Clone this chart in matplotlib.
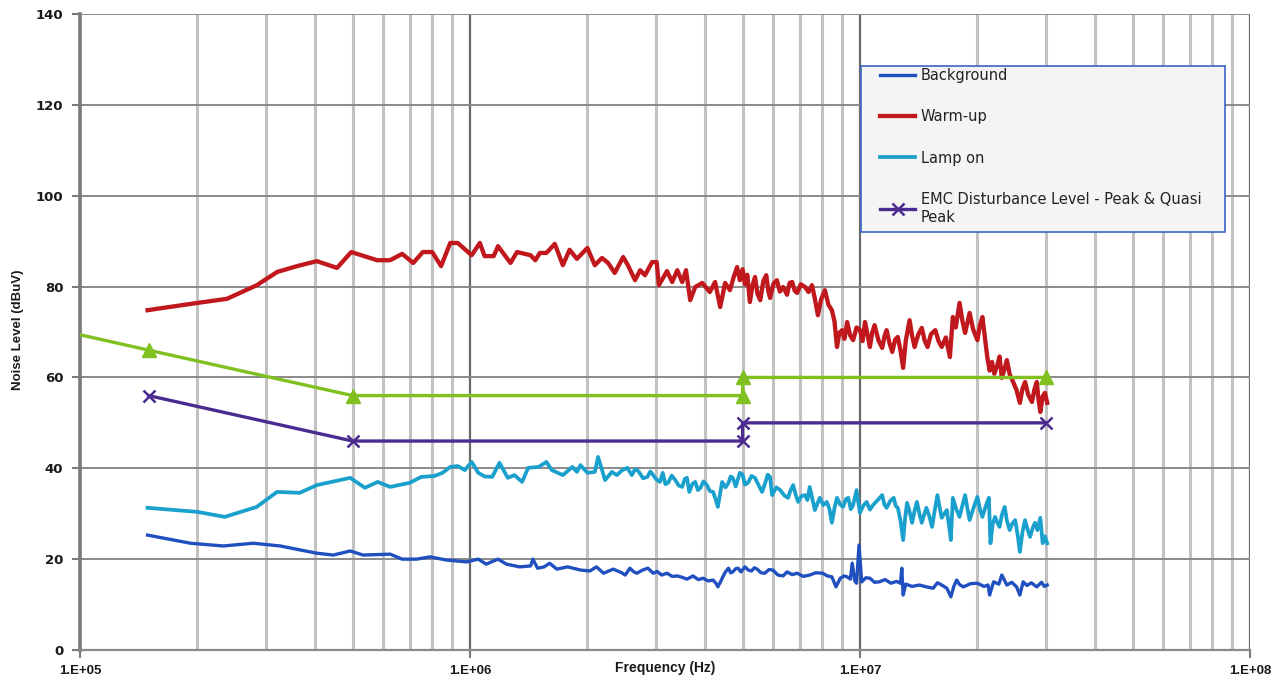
import matplotlib.pyplot as plt
from matplotlib.patches import Rectangle

# EMC limit lines (Hz, dBuV)
limit_qp_f = [1.0e5, 1.5e5, 5.0e5, 5.0e6, 5.0e6, 3.0e7]
limit_qp_v = [69.4, 66, 56, 56, 60, 60]
limit_av_f = [1.5e5, 5.0e5, 5.0e6, 5.0e6, 3.0e7]
limit_av_v = [56, 46, 46, 50, 50]

# Warm-up
warm_f = [1.49e5, 2.0e5, 2.38e5, 2.84e5, 3.2e5, 3.6e5, 4.05e5, 4.56e5, 4.96e5, 5.78e5,
          6.24e5, 6.7e5, 7.15e5, 7.57e5, 8.0e5, 8.43e5, 8.9e5, 9.3e5, 1.01e6, 1.06e6,
          1.09e6, 1.15e6, 1.18e6, 1.27e6, 1.32e6, 1.43e6, 1.47e6, 1.51e6, 1.57e6, 1.65e6,
          1.73e6, 1.8e6, 1.88e6, 2.0e6, 2.09e6, 2.18e6, 2.26e6, 2.35e6, 2.47e6, 2.54e6,
          2.65e6, 2.73e6, 2.81e6, 2.93e6, 3.01e6, 3.05e6, 3.2e6, 3.3e6, 3.4e6, 3.5e6,
          3.58e6, 3.67e6, 3.78e6, 3.94e6, 4.12e6, 4.25e6, 4.38e6, 4.51e6,
          4.64e6, 4.74e6, 4.84e6, 4.92e6, 5.0e6, 5.07e6, 5.14e6, 5.22e6, 5.3e6, 5.38e6,
          5.46e6, 5.55e6, 5.65e6, 5.75e6, 5.82e6, 5.88e6, 6.0e6, 6.12e6, 6.23e6, 6.35e6,
          6.5e6, 6.6e6, 6.7e6, 6.8e6, 6.9e6, 7.05e6, 7.23e6, 7.38e6, 7.53e6, 7.65e6,
          7.8e6, 7.95e6, 8.13e6, 8.3e6, 8.47e6, 8.6e6, 8.73e6, 8.85e6, 9.0e6, 9.12e6,
          9.27e6, 9.43e6, 9.6e6, 9.8e6, 1.0e7, 1.015e7, 1.03e7, 1.045e7, 1.06e7, 1.075e7,
          1.09e7, 1.115e7, 1.14e7, 1.155e7, 1.17e7, 1.19e7, 1.21e7, 1.23e7, 1.25e7, 1.27e7,
          1.29e7, 1.31e7, 1.34e7, 1.36e7, 1.38e7, 1.41e7, 1.44e7, 1.465e7, 1.49e7, 1.52e7,
          1.56e7, 1.59e7, 1.62e7, 1.66e7, 1.7e7, 1.73e7, 1.76e7, 1.8e7, 1.83e7, 1.86e7,
          1.885e7, 1.91e7, 1.95e7, 2.0e7, 2.03e7, 2.06e7, 2.09e7, 2.12e7, 2.15e7, 2.18e7,
          2.21e7, 2.25e7, 2.28e7, 2.31e7, 2.35e7, 2.38e7, 2.42e7, 2.47e7, 2.52e7, 2.57e7,
          2.61e7, 2.65e7, 2.7e7, 2.76e7, 2.8e7, 2.84e7, 2.87e7, 2.9e7, 2.94e7, 2.98e7, 3.02e7]
warm_v = [74.8, 76.4, 77.3, 80.3, 83.2, 84.5, 85.6, 84.1, 87.6, 85.8,
          85.8, 87.2, 85.2, 87.6, 87.6, 84.5, 89.6, 89.6, 86.9, 89.6,
          86.7, 86.7, 88.9, 85.2, 87.6, 86.9, 85.8, 87.4, 87.4, 89.4,
          84.7, 88.1, 86.1, 88.5, 84.7, 86.3, 85.2, 83.0, 86.5, 84.7,
          81.4, 83.6, 82.5, 85.4, 85.4, 80.3, 83.4, 81.0, 83.6, 81.0,
          83.6, 77.0, 79.9, 80.8, 78.8, 81.0, 75.5, 80.8,
          79.2, 82.0, 84.3, 81.4, 83.8, 80.5, 82.6, 76.6, 80.2, 82.1,
          78.4, 77.0, 81.2, 82.5, 79.0, 77.5, 80.6, 81.4, 78.9, 79.9,
          78.2, 80.8, 81.0, 79.1, 78.6, 80.5, 79.9, 78.8, 80.3, 77.6,
          73.7, 77.2, 79.2, 76.0, 74.8, 72.4, 66.7, 69.8, 70.4, 68.5,
          72.2, 69.3, 68.2, 71.0, 70.4, 68.0, 72.2, 69.5, 66.7, 69.9,
          71.5, 68.2, 66.5, 69.0, 70.4, 67.6, 65.6, 68.3, 68.9, 66.0,
          62.1, 68.0, 72.6, 69.2, 66.7, 69.4, 70.9, 68.1, 66.7, 69.5,
          70.4, 68.0, 66.7, 68.8, 64.5, 73.3, 71.0, 76.4, 72.5, 69.8,
          72.0, 74.2, 70.6, 68.2, 71.5, 73.3, 68.9, 64.5, 61.5, 63.4,
          60.8, 62.7, 64.6, 59.9, 62.0, 63.8, 60.7, 59.0, 57.2, 54.4,
          57.5, 59.0, 56.2, 54.6, 57.3, 59.0, 55.0, 52.4, 55.8, 56.6, 54.4]

# Lamp on
lamp_f = [1.49e5, 2.0e5, 2.35e5, 2.84e5, 3.2e5, 3.66e5, 4.05e5, 4.93e5, 5.38e5, 5.8e5,
          6.24e5, 7.0e5, 7.5e5, 8.1e5, 8.5e5, 8.9e5, 9.3e5, 9.7e5, 1.01e6, 1.05e6,
          1.09e6, 1.14e6, 1.19e6, 1.25e6, 1.3e6, 1.36e6, 1.41e6, 1.5e6, 1.57e6, 1.62e6,
          1.73e6, 1.83e6, 1.88e6, 1.92e6, 2.0e6, 2.09e6, 2.13e6, 2.22e6, 2.31e6, 2.38e6,
          2.45e6,
          2.53e6, 2.6e6, 2.65e6, 2.7e6, 2.78e6, 2.85e6, 2.9e6, 2.95e6, 3.0e6, 3.07e6,
          3.12e6, 3.17e6, 3.22e6, 3.29e6, 3.36e6, 3.43e6, 3.5e6, 3.55e6, 3.6e6, 3.65e6,
          3.72e6, 3.78e6, 3.84e6, 3.9e6, 3.97e6, 4.05e6, 4.12e6, 4.2e6, 4.27e6, 4.32e6,
          4.38e6, 4.43e6, 4.52e6, 4.6e6, 4.66e6, 4.72e6, 4.8e6, 4.92e6, 5.0e6, 5.07e6,
          5.16e6, 5.27e6, 5.38e6, 5.5e6, 5.61e6, 5.72e6, 5.8e6, 5.88e6, 5.95e6, 6.1e6,
          6.24e6, 6.4e6, 6.54e6, 6.64e6, 6.74e6, 6.84e6, 6.94e6, 7.08e6, 7.23e6, 7.33e6,
          7.43e6, 7.55e6, 7.66e6, 7.78e6, 7.89e6, 8.05e6, 8.22e6, 8.35e6, 8.47e6, 8.6e6,
          8.73e6, 8.9e6, 9.05e6, 9.2e6, 9.33e6, 9.47e6, 9.6e6, 9.8e6, 9.9e6, 1.0e7,
          1.02e7, 1.04e7, 1.06e7, 1.08e7, 1.11e7, 1.14e7, 1.155e7, 1.17e7, 1.195e7, 1.22e7,
          1.235e7, 1.25e7, 1.27e7, 1.29e7, 1.305e7, 1.32e7, 1.34e7, 1.36e7, 1.38e7, 1.4e7,
          1.42e7, 1.44e7, 1.46e7, 1.48e7, 1.505e7, 1.53e7, 1.555e7, 1.58e7, 1.6e7, 1.62e7,
          1.645e7, 1.67e7, 1.69e7, 1.71e7, 1.73e7, 1.765e7, 1.8e7, 1.83e7, 1.86e7, 1.885e7,
          1.91e7, 1.95e7, 2.0e7, 2.03e7, 2.06e7, 2.1e7, 2.14e7, 2.16e7, 2.19e7, 2.22e7,
          2.25e7, 2.28e7, 2.31e7, 2.35e7, 2.38e7, 2.42e7, 2.46e7, 2.5e7, 2.54e7, 2.57e7,
          2.61e7, 2.65e7, 2.69e7, 2.73e7, 2.77e7, 2.81e7, 2.85e7, 2.9e7, 2.94e7, 2.98e7, 3.02e7]
lamp_v = [31.3, 30.4, 29.3, 31.5, 34.8, 34.6, 36.3, 37.9, 35.7, 37.0,
          35.9, 36.8, 38.1, 38.3, 39.0, 40.3, 40.5, 39.6, 41.4, 39.0,
          38.2, 38.1, 41.2, 37.9, 38.5, 37.0, 40.1, 40.3, 41.4, 39.6,
          38.5, 40.3, 39.2, 40.7, 39.0, 39.2, 42.5, 37.4, 39.2, 38.5,
          39.5,
          40.1, 38.5, 39.8, 39.4, 37.8, 38.1, 39.3, 38.5, 37.6, 37.0,
          39.0, 36.5, 36.8, 38.4, 37.4, 36.2, 35.9, 37.6, 37.9, 34.8,
          36.6, 37.0, 35.2, 35.7, 37.1, 36.3, 35.0, 34.8, 33.0, 31.5,
          34.5, 37.0, 35.8, 36.8, 38.2, 37.9, 36.0, 39.0, 38.6, 36.4,
          36.8, 38.3, 37.9, 36.2, 34.8, 36.9, 38.6, 38.1, 34.1, 35.8,
          35.2, 34.0, 33.5, 35.2, 36.3, 34.2, 32.6, 33.9, 34.1, 33.0,
          35.9, 33.2, 30.8, 32.3, 33.5, 31.9, 32.6, 31.0, 28.0, 31.2,
          33.5, 32.0, 31.5, 33.2, 33.5, 31.0, 31.9, 35.2, 32.5, 30.2,
          31.8, 32.6, 30.9, 31.9, 33.0, 34.1, 32.0, 31.3, 32.8, 33.5,
          31.7, 31.3, 28.5, 24.2, 29.0, 32.4, 30.5, 28.0, 30.6, 32.6,
          30.0, 28.0, 29.8, 31.3, 29.5, 27.1, 30.8, 34.1, 31.4, 29.1,
          30.0, 30.8, 27.6, 24.2, 33.5, 31.0, 29.3, 31.8, 34.1, 31.2,
          28.6, 31.0, 33.7, 31.0, 29.3, 31.6, 33.5, 23.5, 27.8, 29.3,
          28.0, 27.1, 29.7, 31.5, 28.5, 26.4, 27.9, 28.6, 25.0, 21.6,
          26.0, 28.6, 26.5, 24.9, 26.8, 28.0, 26.4, 29.1, 23.5, 25.0, 23.5]

# Background
bg_f = [1.49e5, 1.92e5, 2.33e5, 2.78e5, 3.26e5, 4.05e5, 4.46e5, 4.93e5, 5.32e5, 6.24e5,
        6.7e5, 7.3e5, 7.9e5, 8.7e5, 9.8e5, 1.05e6, 1.1e6, 1.18e6, 1.24e6, 1.34e6,
        1.43e6, 1.45e6, 1.49e6, 1.55e6, 1.6e6, 1.67e6, 1.78e6, 1.92e6, 2.03e6, 2.11e6,
        2.2e6, 2.33e6, 2.45e6,
        2.5e6, 2.57e6, 2.63e6, 2.68e6, 2.77e6, 2.86e6, 2.95e6, 3.02e6, 3.1e6, 3.2e6,
        3.3e6, 3.4e6, 3.5e6, 3.6e6, 3.73e6, 3.85e6, 3.96e6, 4.08e6, 4.2e6, 4.28e6,
        4.32e6, 4.4e6, 4.45e6, 4.52e6, 4.6e6, 4.66e6, 4.72e6, 4.8e6, 4.87e6, 4.95e6,
        5.07e6, 5.17e6, 5.27e6, 5.36e6, 5.45e6, 5.57e6, 5.7e6, 5.84e6, 5.98e6, 6.16e6,
        6.35e6, 6.5e6, 6.7e6, 6.9e6, 7.15e6, 7.43e6, 7.7e6, 8.02e6, 8.25e6, 8.47e6,
        8.68e6, 8.9e6, 9.1e6, 9.27e6, 9.45e6, 9.55e6, 9.7e6, 9.8e6, 9.94e6, 1.01e7,
        1.035e7, 1.06e7, 1.09e7, 1.12e7, 1.16e7, 1.2e7, 1.24e7, 1.27e7, 1.28e7, 1.29e7,
        1.31e7, 1.36e7, 1.42e7, 1.48e7, 1.54e7, 1.58e7, 1.62e7, 1.67e7, 1.71e7, 1.74e7,
        1.77e7, 1.8e7, 1.84e7, 1.92e7, 2.0e7, 2.08e7, 2.13e7, 2.15e7, 2.2e7, 2.27e7,
        2.31e7, 2.38e7, 2.45e7, 2.52e7, 2.57e7, 2.62e7, 2.68e7, 2.75e7, 2.84e7, 2.92e7,
        2.97e7, 3.02e7]
bg_v = [25.3, 23.5, 22.9, 23.5, 22.9, 21.3, 20.9, 21.8, 20.9, 21.1,
        20.0, 20.0, 20.5, 19.8, 19.4, 20.0, 18.9, 20.0, 18.9, 18.3,
        18.5, 20.0, 18.0, 18.3, 19.1, 17.8, 18.3, 17.6, 17.4, 18.3,
        16.9, 17.8, 17.0,
        16.5, 18.0, 17.2, 16.9, 17.6, 18.0, 16.9, 17.3, 16.5, 16.9,
        16.2, 16.3, 16.0, 15.6, 16.3, 15.5, 15.8, 15.2, 15.4, 14.6,
        13.9, 15.2, 16.1, 17.2, 18.0, 17.0, 17.2, 17.9, 18.0, 17.2,
        18.3, 17.6, 17.4, 18.1, 17.8, 17.0, 16.9, 17.7, 17.6, 16.5,
        16.3, 17.2, 16.6, 16.9, 16.2, 16.5, 17.0, 16.9, 16.3, 16.1,
        13.9, 15.8, 16.3, 16.1, 15.6, 19.1, 15.2, 14.7, 23.1, 15.0,
        15.9, 15.8, 14.9, 15.0, 15.5, 14.7, 15.1, 14.7, 18.0, 12.1,
        14.5, 14.0, 14.3, 13.9, 13.6, 14.8, 14.3, 13.6, 11.7, 14.0,
        15.4, 14.4, 13.9, 14.6, 14.7, 14.0, 14.3, 12.1, 15.0, 14.5,
        16.5, 14.3, 14.9, 13.9, 12.1, 15.0, 14.2, 14.8, 13.9, 14.9,
        14.0, 14.3]

xticks = [1e5, 1e6, 1e7, 1e8]
xtick_labels = ['1.E+05', '1.E+06', '1.E+07', '1.E+08']
yticks = [0, 20, 40, 60, 80, 100, 120, 140]

W, H = 1287, 682
fig = plt.figure(figsize=(W / 100, H / 100), dpi=100)
ax = fig.add_axes([80 / W, 1 - 650 / H, 1170 / W, 636 / H])

ax.set_xscale('log')
ax.set_xlim(1e5, 1e8)
ax.set_ylim(0, 140)

minor = [m * d for d in [1e5, 1e6, 1e7] for m in range(2, 10)]
ax.set_xticks(xticks)
ax.set_xticklabels(xtick_labels)
ax.set_xticks(minor, minor=True)
ax.set_xticklabels([], minor=True)
ax.set_yticks(yticks)

ax.grid(which='minor', axis='x', color='#c2c2c2', lw=2.2, zorder=0)
ax.grid(which='major', axis='x', color='#6a6a6a', lw=1.6, zorder=0)
ax.grid(which='major', axis='y', color='#8a8a8a', lw=1.4, zorder=0)
ax.set_axisbelow(True)

for s in ['top', 'right']:
    ax.spines[s].set_visible(False)
ax.spines['left'].set_color('#7a7a7a')
ax.spines['left'].set_linewidth(2.6)
ax.spines['bottom'].set_color('#8a8a8a')
ax.spines['bottom'].set_linewidth(1.6)

ax.tick_params(axis='y', which='major', length=6, width=1.5, color='#7a7a7a', pad=6)
ax.tick_params(axis='x', which='major', length=6, width=1.5, color='#7a7a7a', pad=5)
ax.tick_params(axis='x', which='minor', length=0)
for t in ax.get_yticklabels():
    t.set_fontfamily('DejaVu Sans')
    t.set_fontweight('bold')
    t.set_fontsize(9.5)
    t.set_color('#1a1a1a')
for t in ax.get_xticklabels():
    t.set_fontfamily('Liberation Sans')
    t.set_fontweight('bold')
    t.set_fontsize(9.5)
    t.set_color('#1a1a1a')

ax.plot(bg_f, bg_v, color='#2050c0', lw=2.4, label='Background', zorder=3)
ax.plot(warm_f, warm_v, color='#c0181c', lw=3.1, label='Warm-up', zorder=3)
ax.plot(lamp_f, lamp_v, color='#1aa0cc', lw=2.7, label='Lamp on', zorder=3)
ax.plot(limit_qp_f, limit_qp_v, color='#80c020', lw=2.4, marker='^', ms=10,
        markevery=[1, 2, 3, 4, 5], label='_nolegend_', zorder=4)
ax.plot(limit_av_f, limit_av_v, color='#4b2b8f', lw=2.4, marker='x', ms=9, mew=1.8,
        label='EMC Disturbance Level - Peak & Quasi\nPeak', zorder=4)

ax.text(0.5, -18 / 636, 'Frequency (Hz)', transform=ax.transAxes, ha='center', va='center',
        fontfamily='Liberation Sans', fontweight='bold', fontsize=10, color='#1a1a1a')
fig.text(18 / W, 1 - 330 / H, 'Noise Level (dBuV)', rotation=90, ha='center', va='center',
         fontfamily='Liberation Sans', fontweight='bold', fontsize=9.5, color='#1a1a1a')

# legend frame
ax.add_patch(Rectangle(((861 - 80) / 1170, (650 - 232) / 636), 364 / 1170, 166 / 636,
                       transform=ax.transAxes, facecolor='#f4f4f4', edgecolor='#3c64c4',
                       lw=1.2, zorder=5))
leg = ax.legend(loc='upper left', bbox_to_anchor=((880 - 80) / 1170, (650 - 68) / 636),
                frameon=False, borderpad=0, borderaxespad=0, handlelength=2.4,
                handletextpad=0.4, labelspacing=1.8, numpoints=1,
                prop={'family': 'DejaVu Sans', 'size': 10.5})
leg.set_zorder(6)
for t in leg.get_texts():
    t.set_linespacing(1.3)
    t.set_color('#222222')

fig.savefig('out.png', dpi=100)
